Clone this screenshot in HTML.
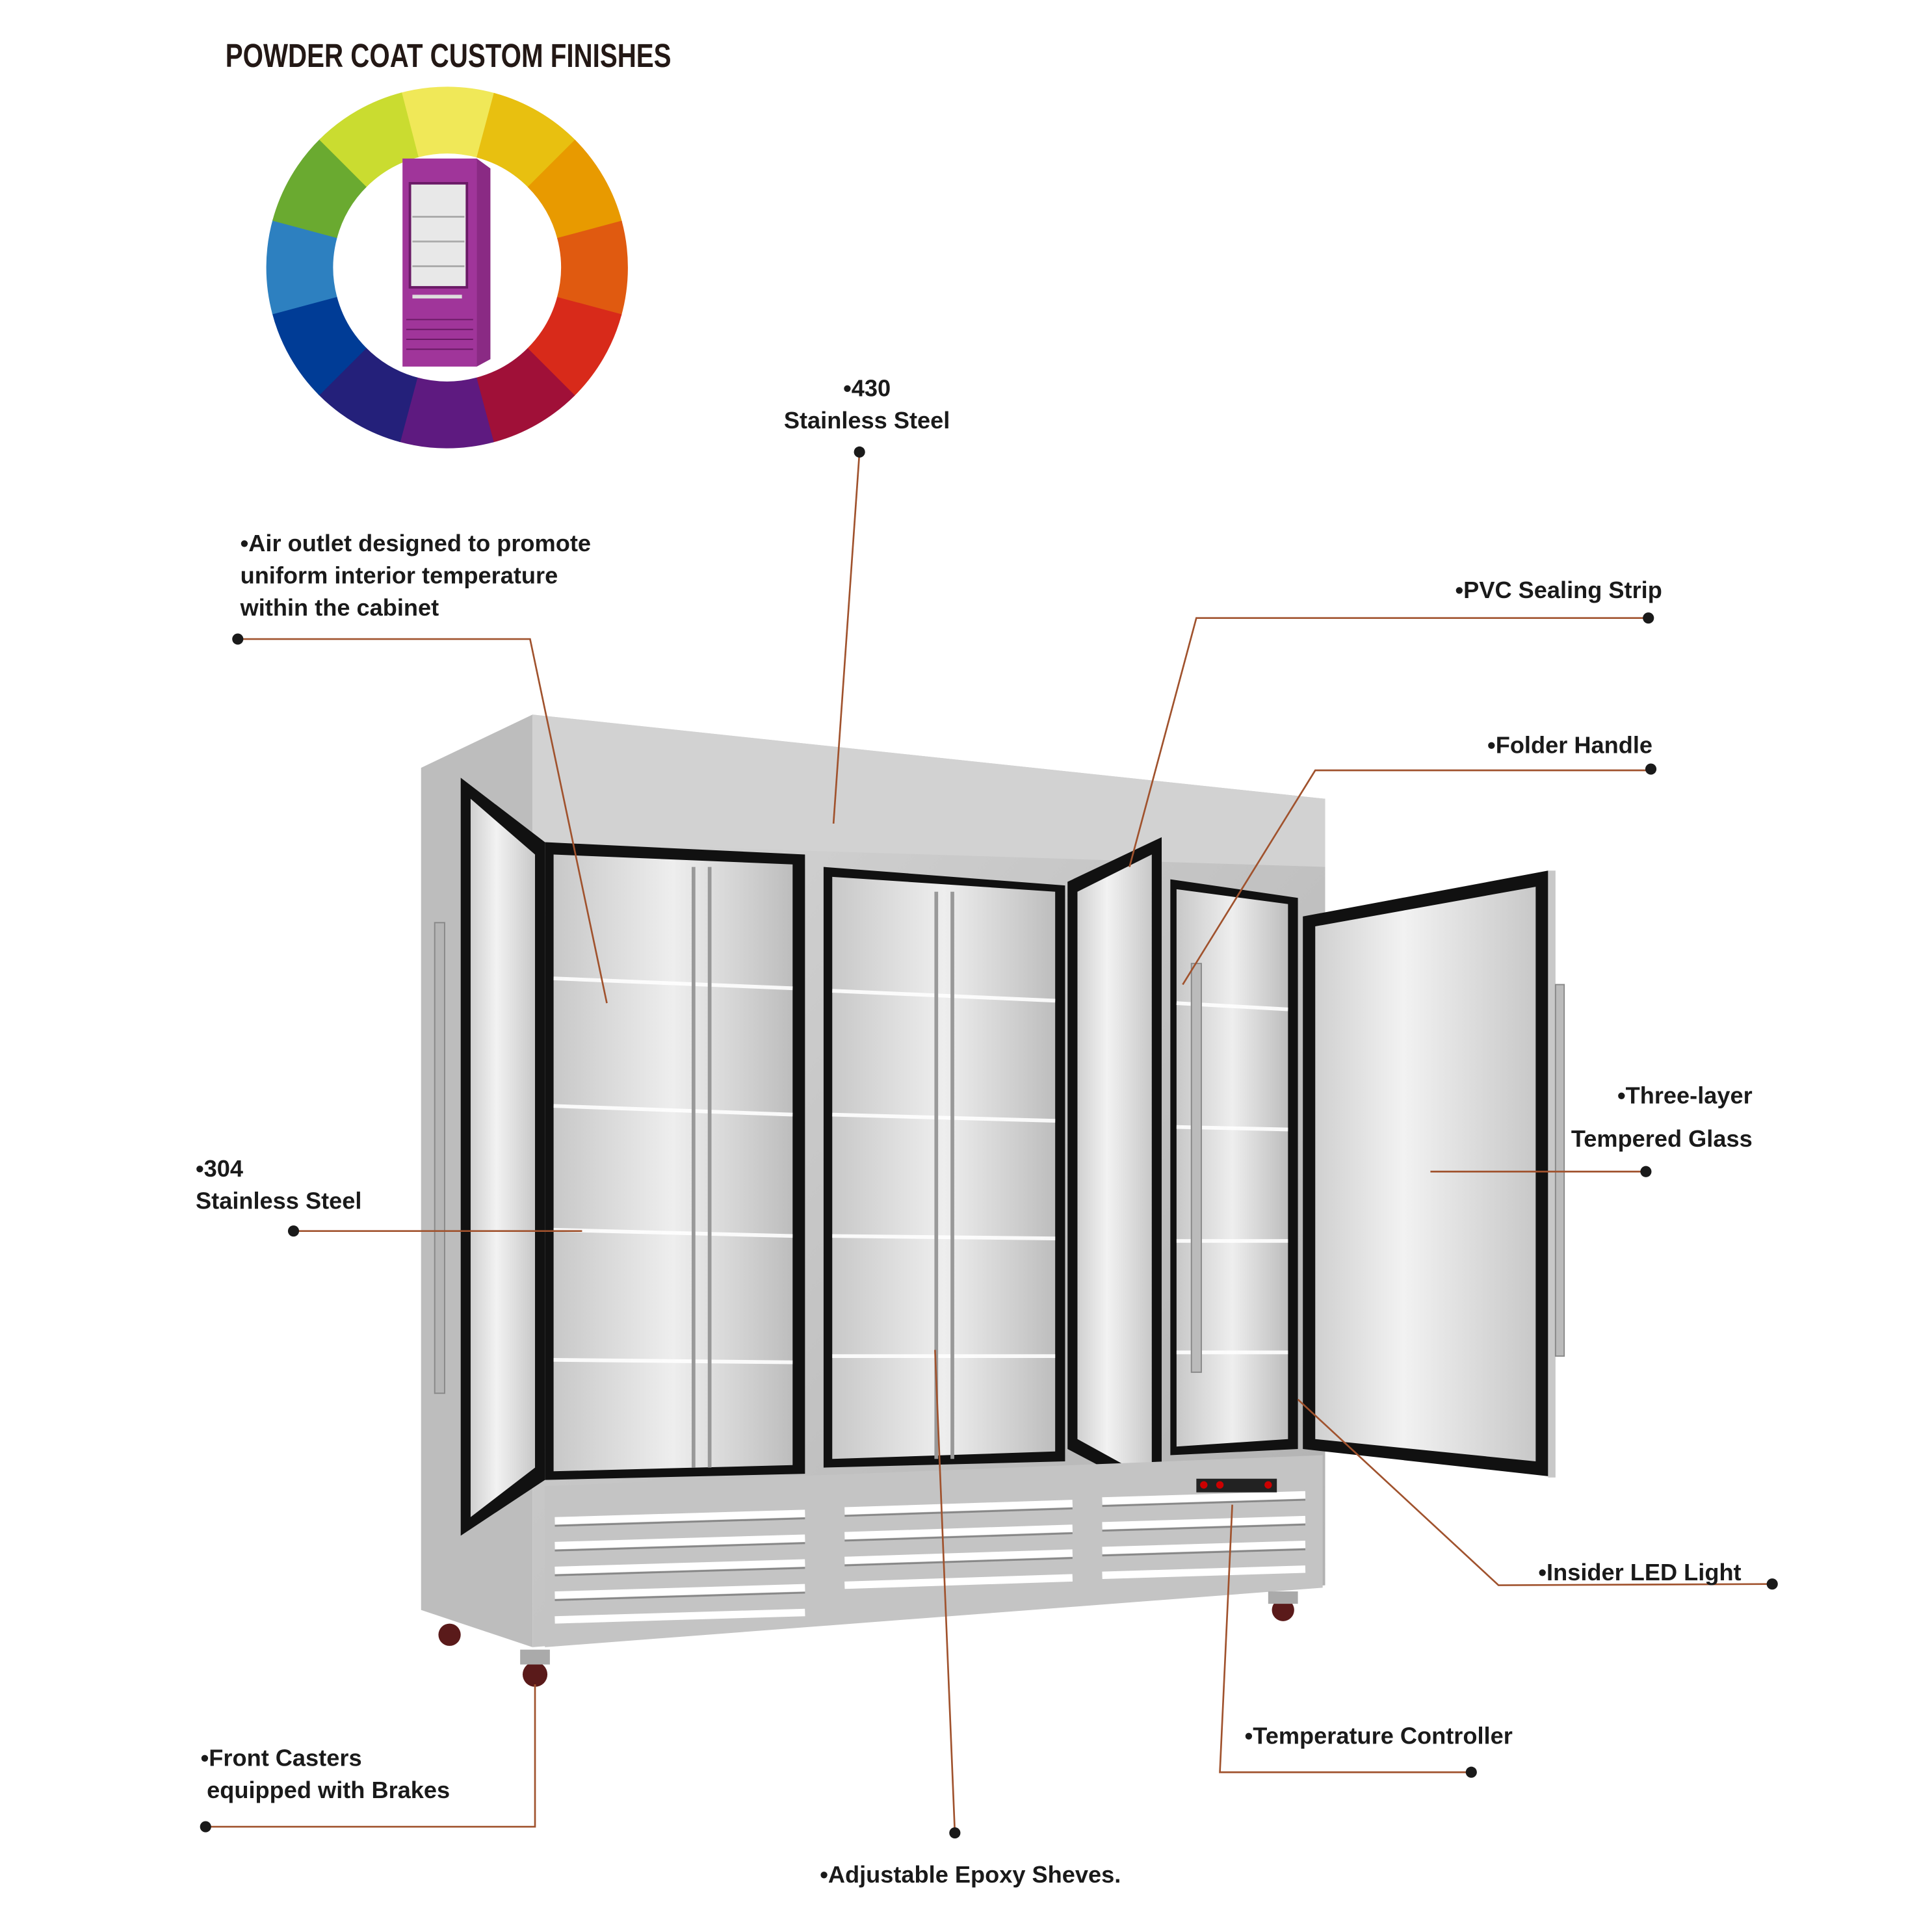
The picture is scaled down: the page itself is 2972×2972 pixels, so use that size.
<!DOCTYPE html>
<html><head><meta charset="utf-8"><style>
html,body{margin:0;padding:0;background:#fff}
svg{display:block}
.l{font-family:"Liberation Sans",sans-serif;font-weight:bold;font-size:19px;fill:#1a1a1a}
.ln{stroke:#a0522d;stroke-width:1.4;fill:none}
</style></head><body>
<svg width="2972" height="2972" viewBox="0 0 1560 1560" xmlns="http://www.w3.org/2000/svg">
<defs>
<linearGradient id="steel" x1="0" y1="0" x2="1" y2="1"><stop offset="0" stop-color="#d8d8d8"/><stop offset=".5" stop-color="#c4c4c4"/><stop offset="1" stop-color="#b0b0b0"/></linearGradient>
<linearGradient id="inner" x1="0" y1="0" x2="1" y2="0"><stop offset="0" stop-color="#c8c8c8"/><stop offset=".5" stop-color="#eeeeee"/><stop offset="1" stop-color="#bdbdbd"/></linearGradient>
<linearGradient id="glass" x1="0" y1="0" x2="1" y2="0"><stop offset="0" stop-color="#d0d0d0"/><stop offset=".4" stop-color="#f2f2f2"/><stop offset="1" stop-color="#c8c8c8"/></linearGradient>
</defs>
<rect width="1560" height="1560" fill="#fff"/>
<text x="182" y="54" font-family="Liberation Sans Narrow,Liberation Sans,sans-serif" font-weight="bold" font-size="27" fill="#231815" textLength="360" lengthAdjust="spacingAndGlyphs">POWDER COAT CUSTOM FINISHES</text>
<g id="wheel" transform="translate(361,216)"></g>
<!-- purple fridge -->
<rect x="325" y="128" width="60" height="168" fill="#a0359a"/>
<polygon points="385,128 396,136 396,290 385,296" fill="#8a2a84"/>
<rect x="331" y="148" width="46" height="84" fill="#e8e8e8" stroke="#6a1a66" stroke-width="2"/>
<g stroke="#aaa" stroke-width="1.5"><line x1="333" y1="175" x2="375" y2="175"/><line x1="333" y1="195" x2="375" y2="195"/><line x1="333" y1="215" x2="375" y2="215"/></g>
<rect x="333" y="238" width="40" height="3" fill="#ddd"/>
<g stroke="#6a1a66" stroke-width="1"><line x1="328" y1="258" x2="382" y2="258"/><line x1="328" y1="266" x2="382" y2="266"/><line x1="328" y1="274" x2="382" y2="274"/><line x1="328" y1="282" x2="382" y2="282"/></g>

<!-- big fridge -->
<polygon points="340,620 430,577 430,1330 340,1300" fill="#bdbdbd"/>
<polygon points="430,577 1070,645 1070,1280 430,1330" fill="url(#steel)"/>
<polygon points="430,577 1070,645 1070,700 430,680" fill="#d2d2d2"/>
<!-- bays -->
<polygon points="440,680 650,690 650,1190 440,1195" fill="#111"/>
<polygon points="447,690 640,698 640,1183 447,1188" fill="url(#inner)"/>
<polygon points="665,700 860,715 860,1180 665,1185" fill="#111"/>
<polygon points="672,708 852,720 852,1172 672,1178" fill="url(#inner)"/>
<polygon points="945,710 1048,725 1048,1170 945,1175" fill="#111"/>
<polygon points="950,718 1040,730 1040,1162 950,1168" fill="url(#inner)"/>
<g stroke="#fff" stroke-width="3" opacity=".9">
<line x1="447" y1="790" x2="640" y2="798"/><line x1="447" y1="893" x2="640" y2="900"/><line x1="447" y1="993" x2="640" y2="998"/><line x1="447" y1="1098" x2="640" y2="1100"/>
<line x1="672" y1="800" x2="852" y2="808"/><line x1="672" y1="900" x2="852" y2="905"/><line x1="672" y1="998" x2="852" y2="1000"/><line x1="672" y1="1095" x2="852" y2="1095"/>
<line x1="950" y1="810" x2="1040" y2="815"/><line x1="950" y1="910" x2="1040" y2="912"/><line x1="950" y1="1002" x2="1040" y2="1002"/><line x1="950" y1="1092" x2="1040" y2="1092"/>
</g>
<g stroke="#999" stroke-width="3"><line x1="560" y1="700" x2="560" y2="1185"/><line x1="573" y1="700" x2="573" y2="1185"/><line x1="756" y1="720" x2="756" y2="1178"/><line x1="769" y1="720" x2="769" y2="1178"/></g>
<!-- left open door -->
<polygon points="372,628 440,680 440,1195 372,1240" fill="#111"/>
<polygon points="380,645 432,690 432,1185 380,1225" fill="url(#glass)"/>
<rect x="351" y="745" width="8" height="380" fill="#b5b5b5" stroke="#888"/>
<!-- middle open door -->
<polygon points="862,712 938,676 938,1210 862,1170" fill="#111"/>
<polygon points="870,720 930,690 930,1195 870,1162" fill="url(#glass)"/>
<rect x="962" y="778" width="8" height="330" fill="#bbb" stroke="#888"/>
<!-- right open door -->
<polygon points="1052,740 1250,703 1250,1192 1052,1170" fill="#111"/>
<polygon points="1062,748 1240,716 1240,1180 1062,1162" fill="url(#glass)"/>
<rect x="1250" y="703" width="6" height="490" fill="#c8c8c8"/>
<rect x="1256" y="795" width="7" height="300" fill="#bbb" stroke="#888"/>
<!-- bottom grills -->
<polygon points="440,1200 1068,1175 1068,1282 440,1330" fill="#c4c4c4"/>
<g stroke="#fff" stroke-width="6">
<line x1="448" y1="1228" x2="650" y2="1222"/><line x1="448" y1="1248" x2="650" y2="1242"/><line x1="448" y1="1268" x2="650" y2="1262"/><line x1="448" y1="1288" x2="650" y2="1282"/><line x1="448" y1="1308" x2="650" y2="1302"/>
<line x1="682" y1="1220" x2="866" y2="1214"/><line x1="682" y1="1240" x2="866" y2="1234"/><line x1="682" y1="1260" x2="866" y2="1254"/><line x1="682" y1="1280" x2="866" y2="1274"/>
<line x1="890" y1="1212" x2="1054" y2="1207"/><line x1="890" y1="1232" x2="1054" y2="1227"/><line x1="890" y1="1252" x2="1054" y2="1247"/><line x1="890" y1="1272" x2="1054" y2="1267"/>
</g>
<g stroke="#888" stroke-width="1.5">
<line x1="448" y1="1232" x2="650" y2="1226"/><line x1="448" y1="1252" x2="650" y2="1246"/><line x1="448" y1="1272" x2="650" y2="1266"/><line x1="448" y1="1292" x2="650" y2="1286"/>
<line x1="682" y1="1224" x2="866" y2="1218"/><line x1="682" y1="1244" x2="866" y2="1238"/><line x1="682" y1="1264" x2="866" y2="1258"/>
<line x1="890" y1="1216" x2="1054" y2="1211"/><line x1="890" y1="1236" x2="1054" y2="1231"/><line x1="890" y1="1256" x2="1054" y2="1251"/>
</g>
<rect x="966" y="1194" width="65" height="11" fill="#222"/>
<circle cx="972" cy="1199" r="3" fill="#c00"/><circle cx="985" cy="1199" r="3" fill="#c00"/><circle cx="1024" cy="1199" r="3" fill="#c00"/>
<!-- casters -->
<circle cx="363" cy="1320" r="9" fill="#5a1a1a"/><circle cx="432" cy="1352" r="10" fill="#5a1a1a"/><circle cx="1036" cy="1300" r="9" fill="#5a1a1a"/>
<rect x="420" y="1332" width="24" height="12" fill="#aaa"/><rect x="1024" y="1285" width="24" height="10" fill="#aaa"/>

<!-- labels & leaders -->
<g class="ln">
<polyline points="694,365 673,665"/>
<polyline points="192,516 428,516 490,810"/>
<polyline points="1331,499 966,499 912,700"/>
<polyline points="1333,622 1062,622 955,795"/>
<polyline points="1329,946 1155,946"/>
<polyline points="237,994 470,994"/>
<polyline points="1431,1279 1210,1280 1048,1130"/>
<polyline points="1188,1431 985,1431 995,1215"/>
<polyline points="771,1480 755,1090"/>
<polyline points="166,1475 432,1475 432,1360"/>
</g>
<g fill="#1a1a1a">
<circle cx="694" cy="365" r="4.5"/><circle cx="192" cy="516" r="4.5"/><circle cx="1331" cy="499" r="4.5"/><circle cx="1333" cy="621" r="4.5"/><circle cx="1329" cy="946" r="4.5"/><circle cx="237" cy="994" r="4.5"/><circle cx="1431" cy="1279" r="4.5"/><circle cx="1188" cy="1431" r="4.5"/><circle cx="771" cy="1480" r="4.5"/><circle cx="166" cy="1475" r="4.5"/>
</g>
<text class="l" x="700" y="320" text-anchor="middle">•430</text>
<text class="l" x="700" y="346" text-anchor="middle">Stainless Steel</text>
<text class="l" x="194" y="445">•Air outlet designed to promote</text>
<text class="l" x="194" y="471">uniform interior temperature</text>
<text class="l" x="194" y="497">within the cabinet</text>
<text class="l" x="1175" y="483" font-size="17">•PVC Sealing Strip</text>
<text class="l" x="1201" y="608" font-size="17">•Folder Handle</text>
<text class="l" x="1415" y="891" font-size="17" text-anchor="end">•Three-layer</text>
<text class="l" x="1415" y="926" font-size="17" text-anchor="end">Tempered Glass</text>
<text class="l" x="158" y="950">•304</text>
<text class="l" x="158" y="976">Stainless Steel</text>
<text class="l" x="1406" y="1276" font-size="17" text-anchor="end">•Insider LED Light</text>
<text class="l" x="1005" y="1408">•Temperature Controller</text>
<text class="l" x="662" y="1520">•Adjustable Epoxy Sheves.</text>
<text class="l" x="162" y="1426">•Front Casters</text>
<text class="l" x="167" y="1452">equipped with Brakes</text>
</svg>
<script>
(function(){var g=document.getElementById('wheel');var cols=['#f0e858','#e8c010','#e89a00','#e05a10','#d82a1a','#a01038','#5e1a80','#24207a','#003c96','#2d80c0','#6aaa30','#cadc30'];var R=146,r=92,ns='http://www.w3.org/2000/svg';
for(var i=0;i<12;i++){var a0=(-90-15+i*30)*Math.PI/180,a1=(-90+15+i*30+0.5)*Math.PI/180;
var p=document.createElementNS(ns,'path');
var d='M'+R*Math.cos(a0)+','+R*Math.sin(a0)+' A'+R+','+R+' 0 0 1 '+R*Math.cos(a1)+','+R*Math.sin(a1)+' L'+r*Math.cos(a1)+','+r*Math.sin(a1)+' A'+r+','+r+' 0 0 0 '+r*Math.cos(a0)+','+r*Math.sin(a0)+'Z';
p.setAttribute('d',d);p.setAttribute('fill',cols[i]);g.appendChild(p);}})();
</script>
</body></html>
